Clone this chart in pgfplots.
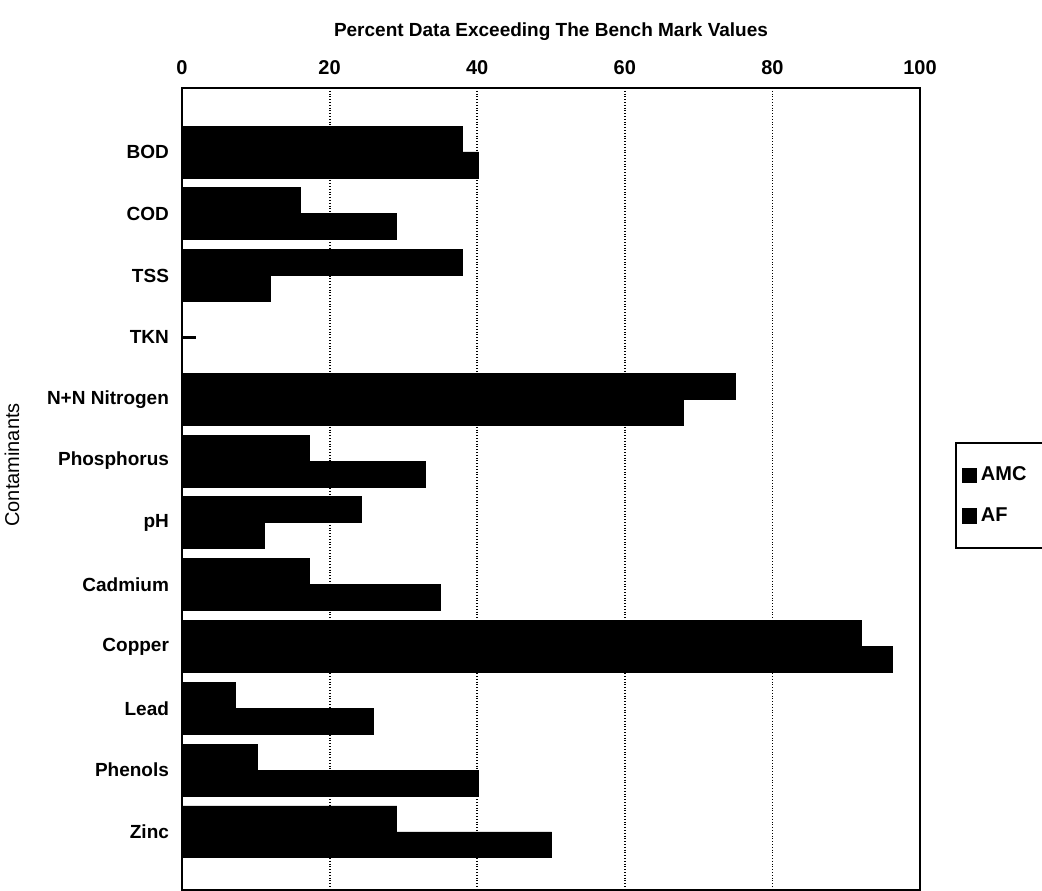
\documentclass[border=0pt]{standalone}
\usepackage{pgfplots}
\pgfplotsset{compat=1.18}
\usepackage{fontspec}
\setmainfont{Liberation Sans}
\begin{document}
\begin{tikzpicture}
\useasboundingbox (-91pt,0pt) rectangle (430pt,445pt);
\begin{axis}[
  at={(0pt,0pt)}, anchor=south west,
  scale only axis,
  width=369pt, height=401pt,
  xbar=0pt, bar width=0.42,
  xmin=0, xmax=100,
  ymin=-1.035, ymax=11.94,
  y dir=reverse,
  xtick={0,20,40,60,80,100},
  xticklabel pos=top,
  ytick pos=left,
  major tick length=0pt,
  tick align=inside,
  xmajorgrids, grid style={black, densely dotted, line width=0.9pt},
  ytick={0,...,11},
  yticklabels={BOD,COD,TSS,TKN,N+N Nitrogen,Phosphorus,pH,Cadmium,Copper,Lead,Phenols,Zinc},
  yticklabel style={font=\bfseries\fontsize{9.5}{11}\selectfont, xshift=-3pt},
  xticklabel style={font=\bfseries\fontsize{10}{12}\selectfont, yshift=3pt},
  extra y ticks={3}, extra y tick labels={},
  extra y tick style={major tick length=7pt, tick style={line width=1.2pt, black}, ymajorgrids=false},
  /pgf/number format/assume math mode=true,
  title={Percent Data Exceeding The Bench Mark Values},
  title style={font=\bfseries\fontsize{9.5}{11}\selectfont, yshift=14pt},
  ylabel={Contaminants},
  every axis y label/.style={at={(axis description cs:-0.2304,0.53)}, rotate=90, anchor=center},
  ylabel style={font=\fontsize{10}{12}\selectfont},
  axis line style={line width=1.2pt},
  legend style={at={(1.0474,0.559)}, anchor=north west, draw=black, line width=1pt,
    font=\bfseries\fontsize{10}{12}\selectfont, row sep=8pt, inner xsep=3pt, inner ysep=10pt},
  legend cell align=left,
  legend image code/.code={\fill[black] (0pt,-3.3pt) rectangle (6.5pt,3.3pt);},
]
\addplot[fill=black, draw=black] coordinates {
(38,0) (16,1) (38,2) (0,3) (75,4) (17.2,5) (24.3,6) (17.2,7) (92.1,8) (7.2,9) (10.2,10) (29.1,11)};
\addplot[fill=black, draw=black] coordinates {
(40.2,0) (29,1) (12,2) (0,3) (68,4) (33,5) (11.2,6) (35,7) (96.2,8) (26,9) (40.1,10) (50.1,11)};
\legend{\makebox[40pt][l]{AMC},AF}
\end{axis}
\end{tikzpicture}
\end{document}
